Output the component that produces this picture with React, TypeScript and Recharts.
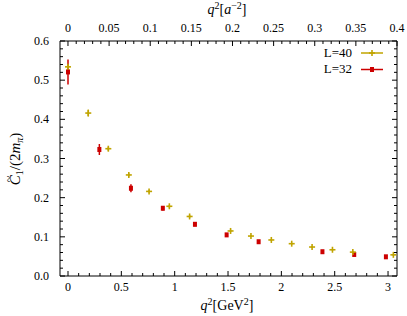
import { ScatterChart, Scatter, XAxis, YAxis, ErrorBar } from "recharts";

// L=40 ensemble
const q2L40 = [0, 0.19, 0.378, 0.57, 0.76, 0.95, 1.14, 1.524, 1.715, 1.906, 2.097, 2.288, 2.479, 2.67, 3.05];
const cL40 = [0.534, 0.416, 0.325, 0.258, 0.216, 0.178, 0.152, 0.115, 0.102, 0.092, 0.0825, 0.074, 0.067, 0.061, 0.054];
const errL40 = [0.006, 0.009, 0.005, 0.004, 0.003, 0.003, 0.003, 0.003, 0.002, 0.002, 0.002, 0.002, 0.002, 0.002, 0.002];

// L=32 ensemble
const q2L32 = [0, 0.294, 0.59, 0.889, 1.19, 1.487, 1.787, 2.385, 2.683, 2.98];
const cL32 = [0.521, 0.323, 0.224, 0.173, 0.132, 0.105, 0.0875, 0.062, 0.055, 0.049];
const errL32 = [0.032, 0.014, 0.01, 0.006, 0.005, 0.004, 0.003, 0.003, 0.003, 0.003];

// tick labels
const bottomMajor = [0, 0.5, 1, 1.5, 2, 2.5, 3];
const topMajor = [0, 0.05, 0.1, 0.15, 0.2, 0.25, 0.3, 0.35, 0.4];
const yMajor = [0, 0.1, 0.2, 0.3, 0.4, 0.5, 0.6];

const YELLOW = "#c0a400";
const RED = "#cc0000";
const FONT = "Liberation Serif, DejaVu Serif, serif";

const steps = (from: number, to: number, step: number) => {
  const out: number[] = [];
  for (let v = from; v <= to + 1e-9; v += step) out.push(Math.round(v * 1000) / 1000);
  return out;
};
const bottomTicks = steps(0, 3, 0.1);
const topTicks = steps(0, 0.4, 0.01);
const yTicks = steps(0, 0.6, 0.02);

const dataL40 = q2L40.map((q2, i) => ({ q2, c: cL40[i], err: errL40[i] }));
const dataL32 = q2L32.map((q2, i) => ({ q2, c: cL32[i], err: errL32[i] }));
// invisible anchor so the top / right axes get drawn
const topAnchor = topMajor.map((q2, i) => ({ q2, c: yMajor[i % yMajor.length] }));

const isMajor = (majors: number[], v: number) => majors.some((m) => Math.abs(m - v) < 1e-6);

const makeTick =
  (side: "bottom" | "top" | "left" | "right", majors: number[], fmt?: (v: number) => string) =>
  (props: any) => {
    const { x, y, payload } = props;
    const v = payload.value;
    const major = isMajor(majors, v);
    const len = major ? 5 : 3;
    let line;
    let label = null;
    if (side === "bottom") {
      line = <line x1={x} y1={y} x2={x} y2={y - len} stroke="#000" />;
      if (major && fmt)
        label = (
          <text x={x} y={y + 15} textAnchor="middle" fontSize={12} fontFamily={FONT} fill="#000">
            {fmt(v)}
          </text>
        );
    } else if (side === "top") {
      line = <line x1={x} y1={y} x2={x} y2={y + len} stroke="#000" />;
      if (major && fmt)
        label = (
          <text x={x} y={y - 9} textAnchor="middle" fontSize={12} fontFamily={FONT} fill="#000">
            {fmt(v)}
          </text>
        );
    } else if (side === "left") {
      line = <line x1={x} y1={y} x2={x + len} y2={y} stroke="#000" />;
      if (major && fmt)
        label = (
          <text x={x - 11} y={y + 4} textAnchor="end" fontSize={12} fontFamily={FONT} fill="#000">
            {fmt(v)}
          </text>
        );
    } else {
      line = <line x1={x} y1={y} x2={x - len} y2={y} stroke="#000" />;
    }
    return (
      <g>
        {line}
        {label}
      </g>
    );
  };

const PlusShape = (props: any) => {
  const { cx, cy } = props;
  return (
    <g stroke={YELLOW} strokeWidth={1.6}>
      <line x1={cx - 3} y1={cy} x2={cx + 3} y2={cy} />
      <line x1={cx} y1={cy - 3} x2={cx} y2={cy + 3} />
    </g>
  );
};

const SquareShape = (props: any) => {
  const { cx, cy } = props;
  return <rect x={cx - 2} y={cy - 2.5} width={4} height={5} fill={RED} />;
};

const NoShape = () => <g />;

export default function App() {
  return (
    <div
      style={{
        position: "absolute",
        left: 0,
        top: 0,
        width: 407,
        height: 316,
        background: "#fff",
        fontFamily: FONT,
      }}
    >
      <ScatterChart
        width={407}
        height={316}
        margin={{ top: 0, right: 9, bottom: 0, left: 0 }}
        style={{ fontFamily: FONT }}
      >
        <XAxis
          xAxisId="bottom"
          type="number"
          dataKey="q2"
          domain={[-0.075, 3.084]}
          allowDataOverflow
          ticks={bottomTicks}
          interval={0}
          tickSize={0}
          tickMargin={0}
          tickLine={false}
          axisLine={{ stroke: "#000" }}
          height={40}
          tick={makeTick("bottom", bottomMajor, (v) => String(v))}
        />
        <XAxis
          xAxisId="top"
          orientation="top"
          type="number"
          dataKey="q2"
          domain={[-0.0097, 0.4]}
          allowDataOverflow
          ticks={topTicks}
          interval={0}
          tickSize={0}
          tickMargin={0}
          tickLine={false}
          axisLine={{ stroke: "#000" }}
          height={41}
          tick={makeTick("top", topMajor, (v) => String(v))}
        />
        <YAxis
          yAxisId="left"
          type="number"
          dataKey="c"
          domain={[0, 0.6]}
          allowDataOverflow
          ticks={yTicks}
          interval={0}
          tickSize={0}
          tickMargin={0}
          tickLine={false}
          axisLine={{ stroke: "#000" }}
          width={60}
          tick={makeTick("left", yMajor, (v) => v.toFixed(1))}
        />
        <YAxis
          yAxisId="right"
          orientation="right"
          type="number"
          dataKey="c"
          domain={[0, 0.6]}
          allowDataOverflow
          ticks={yTicks}
          interval={0}
          tickSize={0}
          tickMargin={0}
          tickLine={false}
          axisLine={{ stroke: "#000" }}
          width={1}
          tick={makeTick("right", yMajor)}
        />
        <Scatter xAxisId="top" yAxisId="right" data={topAnchor} shape={NoShape} isAnimationActive={false} />
        <Scatter
          name="L=32"
          xAxisId="bottom"
          yAxisId="left"
          data={dataL32}
          shape={SquareShape}
          isAnimationActive={false}
        >
          <ErrorBar dataKey="err" direction="y" width={0} stroke={RED} strokeWidth={1.5} />
        </Scatter>
        <Scatter
          name="L=40"
          xAxisId="bottom"
          yAxisId="left"
          data={dataL40}
          shape={PlusShape}
          isAnimationActive={false}
        >
          <ErrorBar dataKey="err" direction="y" width={0} stroke={YELLOW} strokeWidth={1.5} />
        </Scatter>

        {/* axis titles */}
        <text x={227} y={14} textAnchor="middle" fontSize={14} fontFamily={FONT} fill="#000">
          <tspan fontStyle="italic">q</tspan>
          <tspan dy={-5} fontSize={10}>2</tspan>
          <tspan dy={5}>[</tspan>
          <tspan fontStyle="italic">a</tspan>
          <tspan dy={-5} fontSize={10}>−2</tspan>
          <tspan dy={5}>]</tspan>
        </text>
        <text x={227} y={310} textAnchor="middle" fontSize={14} fontFamily={FONT} fill="#000">
          <tspan fontStyle="italic">q</tspan>
          <tspan dy={-5} fontSize={10}>2</tspan>
          <tspan dy={5}>[GeV</tspan>
          <tspan dy={-5} fontSize={10}>2</tspan>
          <tspan dy={5}>]</tspan>
        </text>
        <g transform="rotate(-90 20 159)">
          <text x={20} y={159} textAnchor="middle" fontSize={15} fontFamily={FONT} fill="#000">
            <tspan fontStyle="italic">C</tspan>
            <tspan dy={3} fontSize={10}>1</tspan>
            <tspan dy={-3}>/(2</tspan>
            <tspan fontStyle="italic">m</tspan>
            <tspan dy={3} fontSize={10} fontStyle="italic">π</tspan>
            <tspan dy={-3}>)</tspan>
          </text>
          <text x={0} y={152} textAnchor="middle" fontSize={12} fontFamily={FONT} fill="#000">
            ~
          </text>
        </g>

        {/* key */}
        <text x={352} y={57} textAnchor="end" fontSize={13} fontFamily={FONT} fill="#000">
          L=40
        </text>
        <line x1={361} y1={53} x2={383} y2={53} stroke={YELLOW} strokeWidth={1.5} />
        <PlusShape cx={372} cy={53} />
        <text x={352} y={73} textAnchor="end" fontSize={13} fontFamily={FONT} fill="#000">
          L=32
        </text>
        <line x1={361} y1={69.5} x2={383} y2={69.5} stroke={RED} strokeWidth={1.5} />
        <SquareShape cx={372} cy={69.5} />
      </ScatterChart>
    </div>
  );
}
